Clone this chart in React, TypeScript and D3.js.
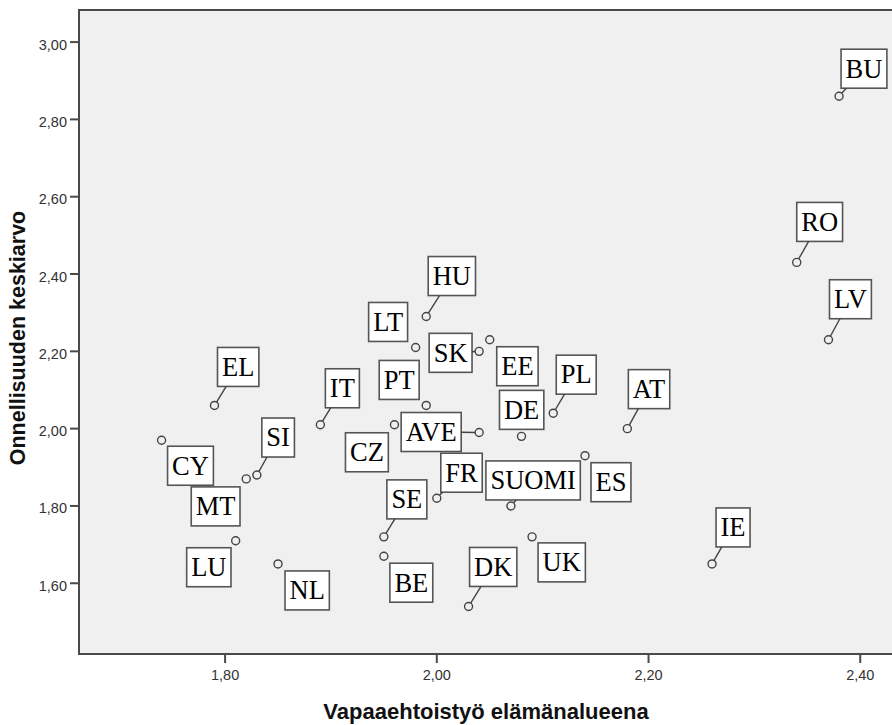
import React, { useRef, useEffect } from 'react';
import * as d3 from 'd3';

// country codes and their values (x: vapaaehtoistyö, y: onnellisuus)
const countries = ['BU', 'RO', 'LV', 'HU', 'LT', 'SK', 'EE', 'EL', 'IT', 'PT', 'AVE', 'CZ', 'CY', 'SI', 'MT', 'FR', 'SE', 'LU', 'NL', 'BE', 'DK', 'UK', 'DE', 'PL', 'AT', 'ES', 'SUOMI', 'IE'];
const volunteering = [2.38, 2.34, 2.37, 1.99, 1.98, 2.04, 2.05, 1.79, 1.89, 1.99, 2.04, 1.96, 1.74, 1.83, 1.82, 2.0, 1.95, 1.81, 1.85, 1.95, 2.03, 2.09, 2.08, 2.11, 2.18, 2.14, 2.07, 2.26];
const happiness = [2.86, 2.43, 2.23, 2.29, 2.21, 2.2, 2.23, 2.06, 2.01, 2.06, 1.99, 2.01, 1.97, 1.88, 1.87, 1.82, 1.72, 1.71, 1.65, 1.67, 1.54, 1.72, 1.98, 2.04, 2.0, 1.93, 1.8, 1.65];

const xTicks = [1.8, 2.0, 2.2, 2.4];
const yTicks = [1.6, 1.8, 2.0, 2.2, 2.4, 2.6, 2.8, 3.0];

// label box placement relative to the point (px), and whether a leader line is drawn
const labelDx = [2, 0, 1, 2, -47, -50, 7, 3, 5, -47, -78, -49, 6, 5, -55, 4, 3, -49, 7, 6, 1, 6, -22, 3, 1, 6, -25, 4];
const labelDy = [-47, -60, -60, -60, -45, -18, 7, -58, -56, -45, -20, 8, 6, -57, 8, -45, -57, 7, 7, 7, -59, 6, -46, -58, -59, 7, -45, -56];
const leader = [1, 1, 1, 1, 0, 1, 0, 1, 1, 0, 1, 0, 0, 1, 0, 1, 1, 0, 0, 0, 1, 0, 0, 1, 1, 0, 1, 1];

const fmt = (v: number) => v.toFixed(2).replace('.', ',');

export default function App() {
  const ref = useRef<SVGSVGElement>(null);
  const width = 892;
  const height = 725;
  const margin = { top: 10, right: 0, bottom: 71, left: 79 };

  useEffect(() => {
    const svg = d3.select(ref.current);
    svg.selectAll('*').remove();

    const x = d3.scaleLinear().domain([1.662, 2.43]).range([margin.left, width - margin.right]);
    const y = d3.scaleLinear().domain([1.417, 3.083]).range([height - margin.bottom, margin.top]);
    const [x0] = x.range();
    const x1 = width + 10; // plot area runs off the right edge
    const [yb, yt] = y.range();

    svg.append('rect')
      .attr('x', x0).attr('y', yt)
      .attr('width', x1 - x0).attr('height', yb - yt)
      .attr('fill', '#f0f0f0');

    const axisColor = '#4a4a4a';
    // frame: left, bottom, top
    svg.append('path')
      .attr('d', `M${x1},${yt}H${x0}V${yb}H${x1}`)
      .attr('fill', 'none')
      .attr('stroke', axisColor)
      .attr('stroke-width', 2);

    const tickFont = "'Liberation Sans', Arial, sans-serif";
    svg.append('g').selectAll('g').data(yTicks).join('g')
      .each(function (d) {
        const g = d3.select(this);
        g.append('line').attr('x1', x0 - 9).attr('x2', x0).attr('y1', y(d)).attr('y2', y(d))
          .attr('stroke', axisColor).attr('stroke-width', 2);
        g.append('text').attr('x', x0 - 12).attr('y', y(d) + 7.5).attr('text-anchor', 'end')
          .attr('font-family', tickFont).attr('font-size', 14.5).attr('fill', '#333')
          .text(fmt(d));
      });

    svg.append('g').selectAll('g').data(xTicks).join('g')
      .each(function (d) {
        const g = d3.select(this);
        g.append('line').attr('x1', x(d)).attr('x2', x(d)).attr('y1', yb).attr('y2', yb + 9)
          .attr('stroke', axisColor).attr('stroke-width', 2);
        g.append('text').attr('x', x(d)).attr('y', yb + 26).attr('text-anchor', 'middle')
          .attr('font-family', tickFont).attr('font-size', 14.5).attr('fill', '#333')
          .text(fmt(d));
      });

    svg.append('text')
      .attr('x', 486).attr('y', 719)
      .attr('text-anchor', 'middle')
      .attr('font-family', tickFont).attr('font-weight', 'bold').attr('font-size', 22)
      .attr('fill', '#111')
      .text('Vapaaehtoistyö elämänalueena');

    svg.append('text')
      .attr('transform', `translate(25,338) rotate(-90)`)
      .attr('text-anchor', 'middle')
      .attr('font-family', tickFont).attr('font-weight', 'bold').attr('font-size', 21.5)
      .attr('fill', '#111')
      .text('Onnellisuuden keskiarvo');

    const ink = '#444';
    const r = 4;
    const boxH = 39;
    const layer = svg.append('g');

    countries.forEach((name, i) => {
      const cx = x(volunteering[i]);
      const cy = y(happiness[i]);
      const bx = cx + labelDx[i];
      const by = cy + labelDy[i];

      const g = layer.append('g');
      const rect = g.append('rect').attr('fill', '#fff').attr('stroke', '#555').attr('stroke-width', 1.6);
      const text = g.append('text')
        .attr('font-family', "'Liberation Serif', 'Times New Roman', serif")
        .attr('font-size', 26.5)
        .attr('fill', '#000')
        .attr('x', bx + 4.5)
        .attr('y', by + 28.3)
        .text(name);
      const tw = (text.node() as SVGTextElement).getComputedTextLength();
      const bw = tw + 9;
      rect.attr('x', bx).attr('y', by).attr('width', bw).attr('height', boxH);

      if (leader[i]) {
        // ray from point to box centre, clipped at the box edge
        const dx = bx + bw / 2 - cx;
        const dy = by + boxH / 2 - cy;
        const tx = dx !== 0 ? Math.min((bx - cx) / dx, (bx + bw - cx) / dx) : -Infinity;
        const ty = dy !== 0 ? Math.min((by - cy) / dy, (by + boxH - cy) / dy) : -Infinity;
        const t = Math.max(tx, ty);
        const len = Math.hypot(dx, dy);
        layer.append('line')
          .attr('x1', cx + (dx / len) * r).attr('y1', cy + (dy / len) * r)
          .attr('x2', cx + dx * t).attr('y2', cy + dy * t)
          .attr('stroke', ink).attr('stroke-width', 1.4);
      }

      layer.append('circle')
        .attr('cx', cx).attr('cy', cy).attr('r', r)
        .attr('fill', 'none').attr('stroke', ink).attr('stroke-width', 1.4);
    });
  }, []);

  return (
    <svg
      ref={ref}
      width={width}
      height={height}
      style={{ position: 'absolute', left: 0, top: 0, background: '#fff' }}
    />
  );
}
